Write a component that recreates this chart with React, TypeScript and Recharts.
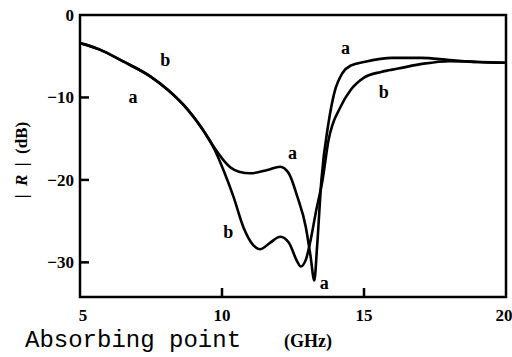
import React from 'react';
import { LineChart, Line, XAxis, YAxis, ReferenceArea, ReferenceDot } from 'recharts';

// curve a
const freqA = [5, 5.7, 6.5, 7.5, 8.1, 8.8, 9.4, 9.75, 10.05, 10.3, 10.6, 11.0, 11.6, 12.05, 12.35, 12.65, 12.95, 13.12, 13.25, 13.35, 13.5, 13.75, 13.95, 14.25, 14.55, 15.0, 16.0, 17.0, 18.0, 19.0, 20];
const rA = [-3.4, -4.2, -5.6, -7.5, -9.1, -11.5, -14.3, -16.2, -17.6, -18.5, -19.0, -19.2, -18.8, -18.4, -19.2, -22, -25.7, -29.3, -32.2, -28, -20, -13.1, -9.5, -7.0, -6.1, -5.7, -5.2, -5.2, -5.45, -5.7, -5.8];

// curve b
const freqB = [5, 5.7, 6.5, 7.5, 8.1, 8.8, 9.4, 9.75, 10.05, 10.4, 10.75, 11.1, 11.35, 11.7, 12.05, 12.35, 12.65, 12.77, 12.95, 13.12, 13.3, 13.54, 13.75, 14.18, 14.53, 15.0, 15.6, 16.2, 17.1, 18.0, 19.0, 20];
const rB = [-3.4, -4.2, -5.6, -7.5, -9.1, -11.5, -14.3, -16.4, -18.8, -22, -25.7, -27.9, -28.4, -27.6, -26.9, -27.6, -29.9, -30.5, -29.7, -27.3, -24, -20, -15.2, -11.1, -9.1, -7.6, -6.9, -6.5, -5.9, -5.6, -5.7, -5.8];

const xTicks = [5, 10, 15, 20];
const yTicks = [0, -10, -20, -30];

const curveLabels = [
  { text: 'b', f: 8.0, db: -5.5 },
  { text: 'a', f: 6.87, db: -9.9 },
  { text: 'a', f: 14.35, db: -4.0 },
  { text: 'b', f: 15.7, db: -9.3 },
  { text: 'a', f: 12.48, db: -16.7 },
  { text: 'b', f: 10.22, db: -26.3 },
  { text: 'a', f: 13.6, db: -32.5 },
];

const dataA = freqA.map((f, i) => ({ f, r: rA[i] }));
const dataB = freqB.map((f, i) => ({ f, r: rB[i] }));

const serif = '"Liberation Serif", "DejaVu Serif", serif';

const XTick = (props: any) => {
  const { x, y, payload } = props;
  const v = payload.value;
  return (
    <g>
      {v !== 5 && v !== 20 && <line x1={x} y1={y} x2={x} y2={y - 9} stroke="#000" strokeWidth={2.5} />}
      <text x={x + (v === 5 ? 3 : 0)} y={y + 24} textAnchor="middle" fontFamily={serif} fontWeight="bold" fontSize={17} fill="#000">
        {v}
      </text>
    </g>
  );
};

const YTick = (props: any) => {
  const { x, y, payload } = props;
  const v = payload.value;
  return (
    <g>
      {v !== 0 && <line x1={x} y1={y} x2={x + 9} y2={y} stroke="#000" strokeWidth={2.5} />}
      <text x={x - 6} y={y + 6} textAnchor="end" fontFamily={serif} fontWeight="bold" fontSize={17} fill="#000">
        {v === 0 ? '0' : '\u2212' + Math.abs(v)}
      </text>
    </g>
  );
};

const CurveLabel = (props: any) => {
  const { cx, cy, text } = props;
  return (
    <text x={cx} y={cy + 6} textAnchor="middle" fontFamily={serif} fontWeight="bold" fontSize={18} fill="#000">
      {text}
    </text>
  );
};

export default function App() {
  return (
    <div style={{ position: 'absolute', left: 0, top: 0, width: 512, height: 357, background: '#fff' }}>
      <LineChart width={512} height={357} margin={{ top: 15, right: 6, left: 0, bottom: 0 }}>
        <XAxis
          dataKey="f"
          type="number"
          domain={[5, 20]}
          ticks={xTicks}
          allowDataOverflow
          height={60}
          axisLine={false}
          tickLine={false}
          tickSize={0}
          tickMargin={0}
          tick={<XTick />}
        />
        <YAxis
          type="number"
          domain={[-34.2, 0]}
          ticks={yTicks}
          allowDataOverflow
          width={80}
          axisLine={false}
          tickLine={false}
          tickSize={0}
          tickMargin={0}
          tick={<YTick />}
        />
        <ReferenceArea x1={5} x2={20} y1={-34.2} y2={0} fill="none" stroke="#000" strokeWidth={2.5} />
        <Line data={dataA} dataKey="r" type="monotone" stroke="#000" strokeWidth={2.6} dot={false} isAnimationActive={false} />
        <Line data={dataB} dataKey="r" type="monotone" stroke="#000" strokeWidth={2.6} dot={false} isAnimationActive={false} />
        {curveLabels.map((l, i) => (
          <ReferenceDot
            key={i}
            x={l.f}
            y={l.db}
            r={0}
            stroke="none"
            shape={(p: any) => <CurveLabel {...p} text={l.text} />}
          />
        ))}
      </LineChart>
      <svg width={512} height={357} style={{ position: 'absolute', left: 0, top: 0, pointerEvents: 'none' }}>
        <text transform="translate(27,160) rotate(-90)" textAnchor="middle" fontFamily={serif} fontWeight="bold" fontSize={17} fill="#000" style={{ whiteSpace: 'pre' }}>
          {'|  '}<tspan fontStyle="italic">R</tspan>{'  |  (dB)'}
        </text>
        <text x={25} y={347} fontFamily='"Liberation Mono", "DejaVu Sans Mono", monospace' fontSize={24} fill="#000">
          Absorbing point
        </text>
        <text x={284} y={347} fontFamily={serif} fontWeight="bold" fontSize={18} fill="#000">
          (GHz)
        </text>
      </svg>
    </div>
  );
}
